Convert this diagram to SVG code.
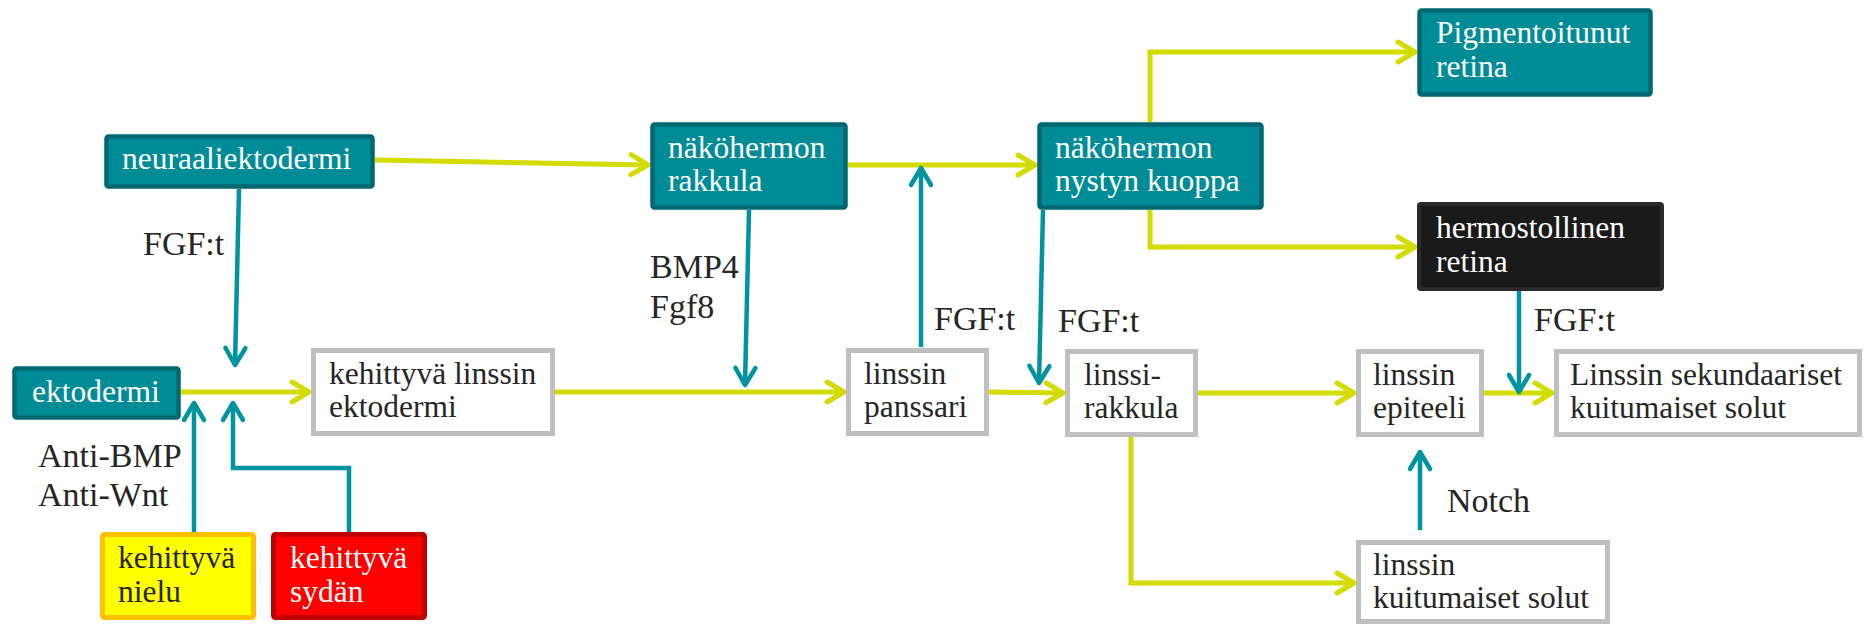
<svg xmlns="http://www.w3.org/2000/svg" width="1872" height="625" viewBox="0 0 1872 625">
  <style>
    .t { font-size: 31.5px; fill: #262626; }
    .tw { font-size: 31.5px; fill: #FFFFFF; }
    .lbl { font-size: 34px; fill: #262626; }
    .teal { fill: #008C96; stroke: #006870; stroke-width: 4.5; }
    .dark { fill: #1A1A1A; stroke: #2A2A2A; stroke-width: 4; }
    .grey { fill: #FFFFFF; stroke: #BFBFBF; stroke-width: 5; }
    .yel { fill: #FFFF00; stroke: #FFC000; stroke-width: 5; }
    .red { fill: #FF0000; stroke: #C00000; stroke-width: 5; }
    .cy { fill: none; stroke: #D4DB00; stroke-width: 5; stroke-linejoin: miter; marker-end: url(#ay); }
    .ct { fill: none; stroke: #0093A0; stroke-width: 4.5; stroke-linejoin: miter; marker-end: url(#at); }
  </style>
  <defs>
    <marker id="ay" markerUnits="userSpaceOnUse" orient="auto" overflow="visible" markerWidth="1" markerHeight="1" refX="0" refY="0">
      <path d="M-17,-10 L0,0 L-17,10" fill="none" stroke="#D4DB00" stroke-width="5" stroke-linecap="round" stroke-linejoin="round"/>
    </marker>
    <marker id="at" markerUnits="userSpaceOnUse" orient="auto" overflow="visible" markerWidth="1" markerHeight="1" refX="0" refY="0">
      <path d="M-17,-10 L0,0 L-17,10" fill="none" stroke="#0093A0" stroke-width="4.5" stroke-linecap="round" stroke-linejoin="round"/>
    </marker>
  </defs>

  <rect width="1872" height="625" fill="#FFFFFF"/>

  <g font-family="'Liberation Serif', 'DejaVu Serif', serif">
  <!-- connectors -->
  <g id="connectors">
    <!-- yellow development flow -->
    <path class="cy" d="M375,160 L648,165"/>
    <path class="cy" d="M181,392 L309,392"/>
    <path class="cy" d="M555,392 L844,392"/>
    <path class="cy" d="M989,392 L1063,393"/>
    <path class="cy" d="M848,165 L1035,165"/>
    <path class="cy" d="M1150,122 V52 H1415"/>
    <path class="cy" d="M1150,210 V247 H1415"/>
    <path class="cy" d="M1198,393 H1354"/>
    <path class="cy" d="M1131,437 V583 H1354"/>
    <path class="cy" d="M1484,393 H1552"/>
    <!-- teal signalling -->
    <path class="ct" d="M239,189 L235,365"/>
    <path class="ct" d="M194,532 V403"/>
    <path class="ct" d="M349,532 V468 H233 V403"/>
    <path class="ct" d="M749,210 L745,385"/>
    <path class="ct" d="M921,347 V168"/>
    <path class="ct" d="M1043,210 L1039,383"/>
    <path class="ct" d="M1519,291 V392"/>
    <path class="ct" d="M1420,530 V452"/>
  </g>

  <!-- signal labels -->
  <g id="labels">
    <text class="lbl" x="143" y="255">FGF:t</text>
    <text class="lbl" x="650" y="278">BMP4</text>
    <text class="lbl" x="650" y="318">Fgf8</text>
    <text class="lbl" x="934" y="330">FGF:t</text>
    <text class="lbl" x="1058" y="332">FGF:t</text>
    <text class="lbl" x="1534" y="331">FGF:t</text>
    <text class="lbl" x="38" y="467">Anti-BMP</text>
    <text class="lbl" x="38" y="506">Anti-Wnt</text>
    <text class="lbl" x="1447" y="512">Notch</text>
  </g>

  <!-- nodes -->
  <g id="neuraaliektodermi">
    <rect class="teal" x="106.5" y="136.5" width="266" height="50" rx="2"/>
    <text class="tw" x="122" y="169">neuraaliektodermi</text>
  </g>
  <g id="ektodermi">
    <rect class="teal" x="14.5" y="368.5" width="164" height="49" rx="2"/>
    <text class="tw" x="32" y="402">ektodermi</text>
  </g>
  <g id="kehittyva-linssin-ektodermi">
    <rect class="grey" x="313.5" y="350.5" width="239" height="83"/>
    <text class="t" x="329" y="384">kehittyvä linssin</text>
    <text class="t" x="329" y="417">ektodermi</text>
  </g>
  <g id="kehittyva-nielu">
    <rect class="yel" x="102.5" y="534.5" width="151" height="83" rx="2"/>
    <text class="t" x="118" y="568">kehittyvä</text>
    <text class="t" x="118" y="602">nielu</text>
  </g>
  <g id="kehittyva-sydan">
    <rect class="red" x="273.5" y="534.5" width="151" height="83" rx="2"/>
    <text class="tw" x="290" y="568">kehittyvä</text>
    <text class="tw" x="290" y="602">sydän</text>
  </g>
  <g id="nakohermon-rakkula">
    <rect class="teal" x="652.5" y="124.5" width="193" height="83" rx="2"/>
    <text class="tw" x="668" y="158">näköhermon</text>
    <text class="tw" x="668" y="191">rakkula</text>
  </g>
  <g id="nakohermon-nystyn-kuoppa">
    <rect class="teal" x="1039.5" y="124.5" width="222" height="83" rx="2"/>
    <text class="tw" x="1055" y="158">näköhermon</text>
    <text class="tw" x="1055" y="191">nystyn kuoppa</text>
  </g>
  <g id="pigmentoitunut-retina">
    <rect class="teal" x="1419.5" y="10.5" width="231" height="84" rx="2"/>
    <text class="tw" x="1436" y="43">Pigmentoitunut</text>
    <text class="tw" x="1436" y="77">retina</text>
  </g>
  <g id="hermostollinen-retina">
    <rect class="dark" x="1419" y="204" width="243" height="85" rx="2"/>
    <text class="tw" x="1436" y="238">hermostollinen</text>
    <text class="tw" x="1436" y="272">retina</text>
  </g>
  <g id="linssin-panssari">
    <rect class="grey" x="848.5" y="350.5" width="138" height="83"/>
    <text class="t" x="864" y="384">linssin</text>
    <text class="t" x="864" y="417">panssari</text>
  </g>
  <g id="linssirakkula">
    <rect class="grey" x="1067.5" y="351.5" width="128" height="83"/>
    <text class="t" x="1084" y="385">linssi-</text>
    <text class="t" x="1084" y="418">rakkula</text>
  </g>
  <g id="linssin-epiteeli">
    <rect class="grey" x="1358.5" y="351.5" width="123" height="83"/>
    <text class="t" x="1373" y="385">linssin</text>
    <text class="t" x="1373" y="418">epiteeli</text>
  </g>
  <g id="linssin-sekundaariset">
    <rect class="grey" x="1556.5" y="351.5" width="303" height="83"/>
    <text class="t" x="1570" y="385">Linssin sekundaariset</text>
    <text class="t" x="1570" y="418">kuitumaiset solut</text>
  </g>
  <g id="linssin-kuitumaiset-solut">
    <rect class="grey" x="1358.5" y="542.5" width="249" height="79"/>
    <text class="t" x="1373" y="575">linssin</text>
    <text class="t" x="1373" y="608">kuitumaiset solut</text>
  </g>
  </g>
</svg>
